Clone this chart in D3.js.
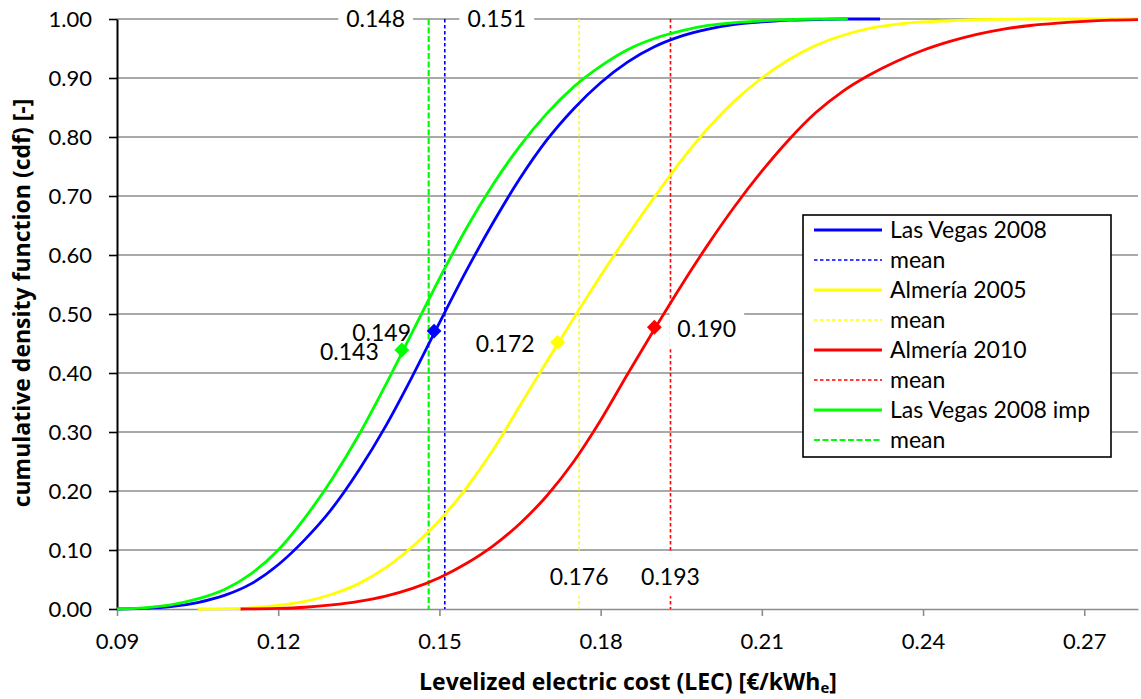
<!DOCTYPE html>
<html>
<head>
<meta charset="utf-8">
<script src="https://cdn.jsdelivr.net/npm/d3@7"></script>
<style>
  body { margin: 0; background: #fff; }
  svg { display: block; font-family: Lato, "Open Sans", sans-serif; }
</style>
</head>
<body>
<svg id="chart" width="1141" height="699"></svg>
<script>
// Cumulative distributions of the levelized electric cost, [LEC, cdf] pairs
const lasVegas2008 = [[0.090,0.000],[0.095,0.001],[0.100,0.004],[0.105,0.011],[0.110,0.023],[0.115,0.043],[0.120,0.075],[0.125,0.118],[0.130,0.170],[0.135,0.235],[0.140,0.310],[0.145,0.395],[0.150,0.485],[0.155,0.573],[0.160,0.655],[0.165,0.730],[0.170,0.795],[0.175,0.848],[0.180,0.892],[0.185,0.927],[0.190,0.953],[0.195,0.971],[0.200,0.983],[0.205,0.991],[0.210,0.995],[0.215,0.998],[0.220,0.999],[0.225,1.000],[0.232,1.000]];
const almeria2005 = [[0.105,0.000],[0.110,0.0005],[0.115,0.002],[0.120,0.006],[0.125,0.013],[0.130,0.025],[0.135,0.043],[0.140,0.070],[0.145,0.106],[0.150,0.150],[0.155,0.205],[0.160,0.270],[0.165,0.345],[0.170,0.420],[0.175,0.493],[0.180,0.565],[0.185,0.633],[0.190,0.698],[0.195,0.760],[0.200,0.815],[0.205,0.862],[0.210,0.900],[0.215,0.931],[0.220,0.955],[0.225,0.972],[0.230,0.984],[0.235,0.991],[0.240,0.995],[0.245,0.997],[0.250,0.999],[0.260,1.000],[0.280,1.000]];
const almeria2010 = [[0.113,0.000],[0.115,0.0002],[0.120,0.001],[0.125,0.003],[0.130,0.007],[0.135,0.013],[0.140,0.022],[0.145,0.035],[0.150,0.053],[0.155,0.077],[0.160,0.107],[0.165,0.145],[0.170,0.192],[0.175,0.250],[0.180,0.320],[0.185,0.398],[0.190,0.474],[0.195,0.548],[0.200,0.618],[0.205,0.683],[0.210,0.742],[0.215,0.795],[0.220,0.841],[0.225,0.877],[0.230,0.905],[0.235,0.928],[0.240,0.947],[0.245,0.962],[0.250,0.974],[0.255,0.983],[0.260,0.989],[0.265,0.993],[0.270,0.996],[0.275,0.998],[0.280,0.999]];
const lasVegas2008imp = [[0.090,0.000],[0.095,0.002],[0.100,0.007],[0.105,0.017],[0.110,0.033],[0.115,0.060],[0.120,0.100],[0.125,0.155],[0.130,0.220],[0.135,0.295],[0.140,0.380],[0.145,0.470],[0.150,0.560],[0.155,0.645],[0.160,0.720],[0.165,0.785],[0.170,0.840],[0.175,0.885],[0.180,0.920],[0.185,0.948],[0.190,0.967],[0.195,0.980],[0.200,0.989],[0.205,0.994],[0.210,0.997],[0.215,0.999],[0.220,1.000],[0.226,1.000]];

const seriesNames = ["Las Vegas 2008", "Almería 2005", "Almería 2010", "Las Vegas 2008 imp"];
const meanLEC = [0.151, 0.176, 0.193, 0.148];
const markerLEC = [0.149, 0.172, 0.190, 0.143];
const markerCdf = [0.471, 0.452, 0.4775, 0.439];

const xTicks = [0.09, 0.12, 0.15, 0.18, 0.21, 0.24, 0.27];
const yTicks = [0.0, 0.1, 0.2, 0.3, 0.4, 0.5, 0.6, 0.7, 0.8, 0.9, 1.0];

// Presentation
const colors = ["#0000ff", "#ffff00", "#ff0000", "#00ff00"];
const meanDash = ["3.5,2.5", "3.5,2.5", "3.5,2.5", "6,2.5"];
const meanWidth = [1.6, 1.6, 1.6, 2.2];
const drawOrder = [0, 1, 2, 3];

const series = [lasVegas2008, almeria2005, almeria2010, lasVegas2008imp];

const svg = d3.select("#chart");
const plot = { left: 117, right: 1138, top: 19, bottom: 609 };

const x = d3.scaleLinear().domain([0.09, 0.28]).range([plot.left, plot.right]);
const y = d3.scaleLinear().domain([0, 1]).range([plot.bottom, plot.top]);

// Horizontal gridlines
svg.append("g")
  .selectAll("line")
  .data(yTicks.filter(d => d > 0))
  .join("line")
  .attr("x1", plot.left).attr("x2", plot.right)
  .attr("y1", d => y(d)).attr("y2", d => y(d))
  .attr("stroke", "#8c8c8c").attr("stroke-width", 1.6);

// X axis
const xAxis = svg.append("g")
  .attr("transform", `translate(0,${plot.bottom})`)
  .call(d3.axisBottom(x).tickValues(xTicks).tickFormat(d3.format(".2f"))
    .tickSize(7).tickSizeOuter(0).tickPadding(17));
xAxis.select(".domain").attr("stroke", "#8c8c8c").attr("stroke-width", 1.6);
xAxis.selectAll(".tick line").attr("stroke", "#8c8c8c").attr("stroke-width", 1.6);
xAxis.selectAll(".tick text").attr("font-size", 22).attr("font-family", "Lato, sans-serif").attr("fill", "#000");

// Y axis
const yAxis = svg.append("g")
  .attr("transform", `translate(${plot.left},0)`)
  .call(d3.axisLeft(y).tickValues(yTicks).tickFormat(d3.format(".2f"))
    .tickSize(8).tickSizeOuter(0).tickPadding(17));
yAxis.select(".domain").attr("stroke", "#000").attr("stroke-width", 2);
yAxis.selectAll(".tick line").attr("stroke", "#000").attr("stroke-width", 1.6);
yAxis.selectAll(".tick text").attr("font-size", 22).attr("font-family", "Lato, sans-serif").attr("fill", "#000");

// Mean lines
svg.append("g")
  .selectAll("line")
  .data(drawOrder)
  .join("line")
  .attr("x1", i => x(meanLEC[i])).attr("x2", i => x(meanLEC[i]))
  .attr("y1", y(1)).attr("y2", y(0))
  .attr("stroke", i => colors[i])
  .attr("stroke-width", i => meanWidth[i])
  .attr("stroke-dasharray", i => meanDash[i]);

// Value labels; mean labels and the Almería 2010 marker label sit on a white backing
const fmt = d3.format(".3f");
const labels = [];
markerLEC.forEach((v, i) => {
  const right = i === 2;
  labels.push({ text: fmt(v), x: x(v) + (right ? 23 : -23), y: y(markerCdf[i]) + 2,
    anchor: right ? "start" : "end", backing: right ? [22, 20] : null });
});
labels.push({ text: fmt(meanLEC[3]), x: x(meanLEC[3]) - 53, y: y(1), anchor: "middle", backing: [17, 17] });
labels.push({ text: fmt(meanLEC[0]), x: x(meanLEC[0]) + 52, y: y(1), anchor: "middle", backing: [17, 17] });
labels.push({ text: fmt(meanLEC[1]), x: x(meanLEC[1]), y: y(0.054), anchor: "middle", backing: [24, 19] });
labels.push({ text: fmt(meanLEC[2]), x: x(meanLEC[2]), y: y(0.054), anchor: "middle", backing: [24, 19] });

const lg = svg.append("g");
labels.forEach(l => {
  const g = lg.append("g");
  const t = g.append("text")
    .attr("x", l.x).attr("y", l.y)
    .attr("dy", "0.35em")
    .attr("text-anchor", l.anchor)
    .attr("font-size", 23)
    .text(l.text);
  if (l.backing) {
    const b = t.node().getBBox();
    g.insert("rect", "text")
      .attr("x", b.x - 8).attr("y", l.y - l.backing[0])
      .attr("width", b.width + 16).attr("height", l.backing[0] + l.backing[1])
      .attr("fill", "#fff");
  }
});

// CDF curves
const line = d3.line().x(d => x(d[0])).y(d => y(d[1])).curve(d3.curveMonotoneX);
svg.append("g")
  .selectAll("path")
  .data(drawOrder)
  .join("path")
  .attr("d", i => line(series[i]))
  .attr("fill", "none")
  .attr("stroke", i => colors[i])
  .attr("stroke-width", 2.8)
  .attr("stroke-linejoin", "round");

// Diamond markers
const diamond = d3.symbol().type(d3.symbolSquare).size(110);
svg.append("g")
  .selectAll("path")
  .data(drawOrder)
  .join("path")
  .attr("d", diamond)
  .attr("transform", i => `translate(${x(markerLEC[i])},${y(markerCdf[i])}) rotate(45)`)
  .attr("fill", i => colors[i]);

// Legend
const legend = svg.append("g").attr("transform", "translate(803,215)");
legend.append("rect")
  .attr("width", 308).attr("height", 242)
  .attr("fill", "#fff").attr("stroke", "#000").attr("stroke-width", 1.6);
const legendRows = [];
seriesNames.forEach((name, i) => {
  legendRows.push({ label: name, color: colors[i], dash: null, width: 2.8 });
  legendRows.push({ label: "mean", color: colors[i], dash: meanDash[i], width: meanWidth[i] });
});
const rows = legend.selectAll("g.row")
  .data(legendRows)
  .join("g")
  .attr("class", "row")
  .attr("transform", (d, k) => `translate(0,${15 + k * 30})`);
rows.append("line")
  .attr("x1", 11).attr("x2", 79)
  .attr("stroke", d => d.color)
  .attr("stroke-width", d => d.width)
  .attr("stroke-dasharray", d => d.dash);
rows.append("text")
  .attr("x", 87).attr("dy", "0.35em")
  .attr("font-size", 23)
  .text(d => d.label);

// Axis titles
svg.append("text")
  .attr("x", 628).attr("y", 690)
  .attr("text-anchor", "middle")
  .attr("font-family", "'Open Sans', sans-serif")
  .attr("font-size", 23).attr("font-weight", "bold")
  .call(t => {
    t.append("tspan").text("Levelized electric cost (LEC) [€/kWh");
    t.append("tspan").attr("font-size", 15).attr("dy", 3).text("e");
    t.append("tspan").attr("dy", -3).text("]");
  });

svg.append("text")
  .attr("transform", "translate(30,303) rotate(-90)")
  .attr("text-anchor", "middle")
  .attr("font-family", "'Open Sans', sans-serif")
  .attr("font-size", 23).attr("font-weight", "bold")
  .text("cumulative density function (cdf) [-]");
</script>
</body>
</html>
